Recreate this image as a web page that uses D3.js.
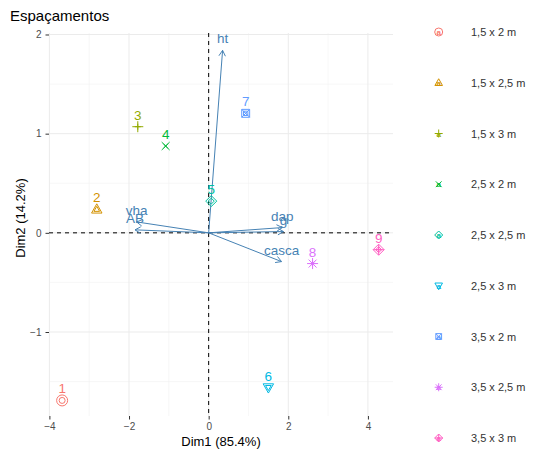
<!DOCTYPE html>
<html><head><meta charset="utf-8">
<script src="https://cdn.jsdelivr.net/npm/d3@7"></script>
<style>
body{margin:0;background:#fff;}
text{font-family:"Liberation Sans",Arial,sans-serif;}
</style></head>
<body><svg id="c" width="535" height="456"></svg>
<script>
// ---- data ----
const groups = ["1,5 x 2 m","1,5 x 2,5 m","1,5 x 3 m","2,5 x 2 m","2,5 x 2,5 m","2,5 x 3 m","3,5 x 2 m","3,5 x 2,5 m","3,5 x 3 m"];
const pointLabels = ["1","2","3","4","5","6","7","8","9"];
const dim1 = [-3.68,-2.81,-1.78,-1.08,0.065,1.50,0.93,2.61,4.27];
const dim2 = [-1.69,0.237,1.07,0.875,0.32,-1.56,1.205,-0.31,-0.17];
const varNames = ["ht","dap","g","vha","AB","casca"];
const varX = [0.35,1.85,1.88,-1.81,-1.85,1.83];
const varY = [1.84,0.053,0.013,0.11,0.03,-0.29];
const xTicks = [-4,-2,0,2,4];
const yTicks = [-1,0,1,2];
const xMinor = [-3,-1,1,3];
const yMinor = [-1.5,-0.5,0.5,1.5];
const colors = ["#F8766D","#D39200","#93AA00","#00BA38","#00C19F","#00B9E3","#619CFF","#DB72FB","#FF61C3"];
const shapes = ["circle","triangle","plus","cross","diamond","triangleDown","squareX","asterisk","diamondPlus"];

const svg = d3.select("#c");
const x = d3.scaleLinear().domain([-4.01,4.63]).range([49,393]);
const y = d3.scaleLinear().domain([-1.847,2.015]).range([416,33]);

function shapePath(s, r){
  const q = r*0.72;
  switch(s){
    case "circle": return `M${r},0A${r},${r} 0 1 1 ${-r},0A${r},${r} 0 1 1 ${r},0Z`;
    case "triangle": return `M0,${-r}L${r*0.95},${r*0.68}L${-r*0.95},${r*0.68}Z`;
    case "triangleDown": return `M0,${r}L${r*0.95},${-r*0.68}L${-r*0.95},${-r*0.68}Z`;
    case "plus": return `M${-r},0H${r}M0,${-r}V${r}`;
    case "cross": return `M${-q},${-q}L${q},${q}M${q},${-q}L${-q},${q}`;
    case "diamond": return `M0,${-r}L${r},0L0,${r}L${-r},0Z`;
    case "squareX": return `M${-q},${-q}H${q}V${q}H${-q}Z M${-q},${-q}L${q},${q}M${q},${-q}L${-q},${q}`;
    case "asterisk": return `M${-r},0H${r}M0,${-r}V${r}M${-q},${-q}L${q},${q}M${q},${-q}L${-q},${q}`;
    case "diamondPlus": return `M0,${-r}L${r},0L0,${r}L${-r},0Z M${-r},0H${r}M0,${-r}V${r}`;
  }
}

// grid
const grid = svg.append("g");
grid.selectAll(".vmin").data(xMinor).join("line")
  .attr("x1",d=>x(d)).attr("x2",d=>x(d)).attr("y1",33).attr("y2",416)
  .attr("stroke","#F2F2F2").attr("stroke-width",0.6);
grid.selectAll(".hmin").data(yMinor).join("line")
  .attr("y1",d=>y(d)).attr("y2",d=>y(d)).attr("x1",49).attr("x2",393)
  .attr("stroke","#F2F2F2").attr("stroke-width",0.6);
grid.selectAll(".vmaj").data(xTicks).join("line")
  .attr("x1",d=>x(d)).attr("x2",d=>x(d)).attr("y1",33).attr("y2",416)
  .attr("stroke","#EBEBEB").attr("stroke-width",1);
grid.selectAll(".hmaj").data(yTicks).join("line")
  .attr("y1",d=>y(d)).attr("y2",d=>y(d)).attr("x1",49).attr("x2",393)
  .attr("stroke","#EBEBEB").attr("stroke-width",1);

// axes
const xAxis = svg.append("g").attr("transform","translate(0,416)")
  .call(d3.axisBottom(x).tickValues(xTicks).tickSize(3.5).tickPadding(3).tickFormat(d3.format("d")));
const yAxis = svg.append("g").attr("transform","translate(49,0)")
  .call(d3.axisLeft(y).tickValues(yTicks).tickSize(3.5).tickPadding(4).tickFormat(d3.format("d")));
[xAxis,yAxis].forEach(a=>{
  a.select(".domain").remove();
  a.selectAll(".tick line").attr("stroke","#333").attr("stroke-width",1);
  a.selectAll(".tick text").attr("fill","#4D4D4D").style("font-size","10px")
    .style("font-family","'Liberation Sans',Arial,sans-serif");
});

// zero dashed lines
svg.append("line").attr("x1",49).attr("x2",393).attr("y1",y(0)).attr("y2",y(0))
  .attr("stroke","#000").attr("stroke-width",1).attr("stroke-dasharray","4,4");
svg.append("line").attr("x1",x(0)).attr("x2",x(0)).attr("y1",33).attr("y2",416)
  .attr("stroke","#000").attr("stroke-width",1).attr("stroke-dasharray","4,4");

// variable arrows
const vars = varNames.map((n,i)=>({n, vx:varX[i], vy:varY[i]}));
const ag = svg.append("g");
vars.forEach(v=>{
  const x0=x(0), y0=y(0), x1=x(v.vx), y1=y(v.vy);
  const ang = Math.atan2(y1-y0, x1-x0);
  const L = 6.5, a = Math.PI/6;
  ag.append("line").attr("x1",x0).attr("y1",y0).attr("x2",x1).attr("y2",y1)
    .attr("stroke","#4682B4").attr("stroke-width",1);
  ag.append("path").attr("d",
    `M${x1-L*Math.cos(ang-a)},${y1-L*Math.sin(ang-a)}L${x1},${y1}L${x1-L*Math.cos(ang+a)},${y1-L*Math.sin(ang+a)}`)
    .attr("fill","none").attr("stroke","#4682B4").attr("stroke-width",1);
});
ag.selectAll("text").data(vars).join("text")
  .attr("x",d=>x(d.vx)).attr("y",d=>y(d.vy)-7)
  .attr("text-anchor","middle").attr("fill","#4682B4").style("font-size","13.5px")
  .text(d=>d.n);

// individuals
const pts = groups.map((g,i)=>({g, lab:pointLabels[i], px:dim1[i], py:dim2[i], c:colors[i], s:shapes[i]}));
const pg = svg.append("g");
pg.selectAll(".inner").data(pts).join("path")
  .attr("transform",d=>`translate(${x(d.px)},${y(d.py)})`)
  .attr("d",d=>shapePath(d.s,3))
  .attr("fill","none").attr("stroke",d=>d.c).attr("stroke-width",1);
pg.selectAll(".outer").data(pts).join("path")
  .attr("transform",d=>`translate(${x(d.px)},${y(d.py)})`)
  .attr("d",d=>shapePath(d.s,5.5))
  .attr("fill","none").attr("stroke",d=>d.c).attr("stroke-width",1);
pg.selectAll("text").data(pts).join("text")
  .attr("x",d=>x(d.px)).attr("y",d=>y(d.py)-7)
  .attr("text-anchor","middle").attr("fill",d=>d.c).style("font-size","13.5px")
  .text(d=>d.lab);

// titles
svg.append("text").attr("x",10).attr("y",21).style("font-size","15px").attr("fill","#000").text("Espaçamentos");
svg.append("text").attr("x",221).attr("y",446).attr("text-anchor","middle").style("font-size","13px").attr("fill","#000").text("Dim1 (85.4%)");
svg.append("text").attr("transform","translate(25,218) rotate(-90)").attr("text-anchor","middle").style("font-size","13px").attr("fill","#000").text("Dim2 (14.2%)");

// legend
const ly = d3.scalePoint().domain(groups).range([32,438]);
const lg = svg.append("g");
const items = lg.selectAll("g").data(pts).join("g").attr("transform",d=>`translate(438.7,${ly(d.g)})`);
items.append("path").attr("d",d=>shapePath(d.s,4)).attr("fill","none").attr("stroke",d=>d.c).attr("stroke-width",1);
items.append("text").attr("x",0).attr("y",3).attr("text-anchor","middle").attr("fill",d=>d.c)
  .style("font-size","8px").style("font-weight","bold").text("a");
items.append("text").attr("x",32.3).attr("y",4).attr("fill","#333").style("font-size","11px").text(d=>d.g);
</script></body></html>
